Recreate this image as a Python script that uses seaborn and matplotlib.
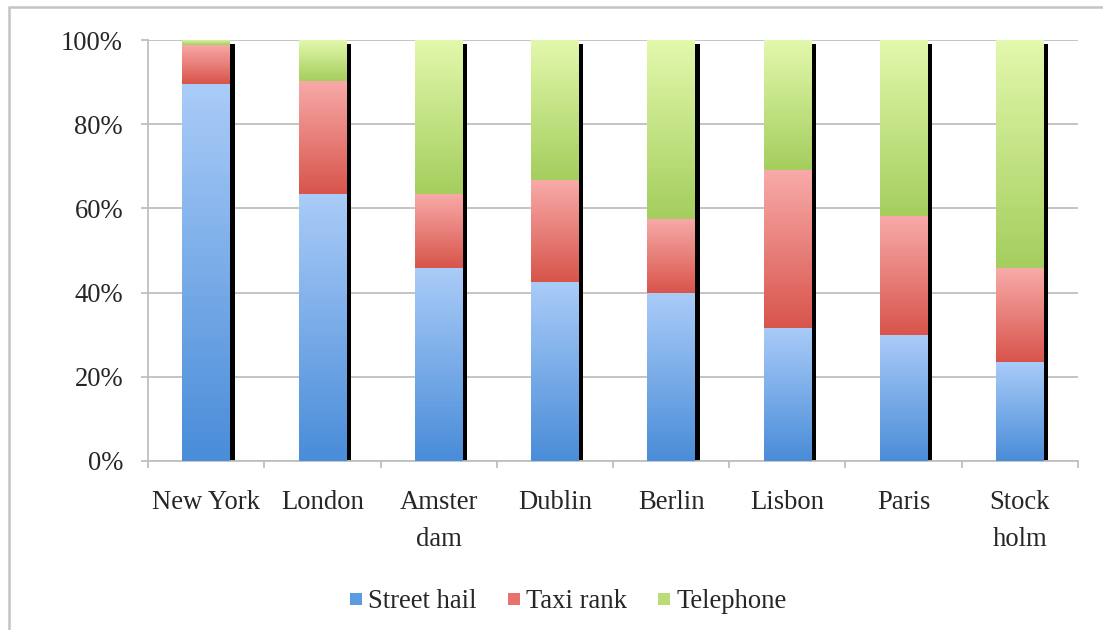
import numpy as np
import pandas as pd
import matplotlib
matplotlib.use("Agg")
import matplotlib.pyplot as plt
import matplotlib.patheffects as pe
from matplotlib.colors import LinearSegmentedColormap
from matplotlib.patches import Rectangle
from matplotlib.lines import Line2D
from matplotlib.ticker import PercentFormatter, FixedLocator
import seaborn as sns

# ── Data (share of taxi bookings, %) ─────────────────
cities      = ["New York", "London", "Amster\ndam", "Dublin", "Berlin",
               "Lisbon", "Paris", "Stock\nholm"]
street_hail = [89.5, 63.4, 45.8, 42.5, 39.9, 31.6, 29.9, 23.5]
taxi_rank   = [9.3, 26.9, 17.6, 24.2, 17.6, 37.5, 28.3, 22.3]
telephone   = [1.2, 9.7, 36.6, 33.3, 42.5, 30.9, 41.8, 54.2]
series      = ["Street hail", "Taxi rank", "Telephone"]

# gradient (top colour, bottom colour), legend colour
grad = {
    "Street hail": ("#a9cbf8", "#4a8dd8", "#5b9be0"),
    "Taxi rank":   ("#f8aaa8", "#d8554c", "#e8736c"),
    "Telephone":   ("#e2f8ac", "#a5ce5e", "#b9dc78"),
}

df = pd.DataFrame({"city": cities, "Street hail": street_hail,
                   "Taxi rank": taxi_rank, "Telephone": telephone})
df["c1"] = df["Street hail"]
df["c2"] = df["c1"] + df["Taxi rank"]
df["c3"] = df["c2"] + df["Telephone"]

sns.set_style("white")
FONT = ["Liberation Serif", "DejaVu Serif"]
FS = 19.2
plt.rcParams["font.family"] = FONT
plt.rcParams["font.size"] = FS

fig = plt.figure(figsize=(11.03, 6.30), dpi=100)
ax = fig.add_axes([0.1342, 0.2683, 0.8431, 0.6682])

# overlay cumulative bars, tallest first; each segment gets its own gradient
layers = [("Telephone", "c2", "c3", 2), ("Taxi rank", "c1", "c2", 4),
          ("Street hail", None, "c1", 6)]
for name, lo, hi, z in layers:
    n_before = len(ax.patches)
    sns.barplot(data=df, x="city", y=hi, color=grad[name][2], width=0.41,
                saturation=1, ax=ax, zorder=z, linewidth=0, errorbar=None)
    cmap = LinearSegmentedColormap.from_list(name, [grad[name][1], grad[name][0]])
    for i, p in enumerate(ax.patches[n_before:]):
        if name == "Telephone":
            p.set_path_effects([pe.SimplePatchShadow(offset=(3.3, -3),
                                shadow_rgbFace="black", alpha=1), pe.Normal()])
        y0 = 0 if lo is None else df[lo].iloc[i]
        y1 = df[hi].iloc[i]
        x0 = p.get_x()
        im = ax.imshow(np.linspace(0, 1, 64).reshape(-1, 1), cmap=cmap,
                       origin="lower", aspect="auto",
                       extent=(x0, x0 + p.get_width(), y0, y1), zorder=z + 0.5)
        im.set_clip_path(p)

ax.set_xlim(-0.5, len(cities) - 0.5)
ax.set_ylim(0, 100)
ax.set_xlabel("")
ax.set_ylabel("")
ax.yaxis.set_major_formatter(PercentFormatter(decimals=0))
ax.set_yticks(np.arange(0, 101, 20))
ax.grid(axis="y", color="#bfbfbf", linewidth=1.3, zorder=0)
ax.set_axisbelow(True)
for s in ["top", "right"]:
    ax.spines[s].set_visible(False)
for s in ["left", "bottom"]:
    ax.spines[s].set_color("#bfbfbf")
    ax.spines[s].set_linewidth(1.3)

ax.xaxis.set_minor_locator(FixedLocator(np.arange(-0.5, len(cities), 1)))
ax.tick_params(axis="x", which="major", length=0, pad=21, labelsize=FS)
ax.tick_params(axis="x", which="minor", length=5, width=1.3, color="#bfbfbf",
               direction="out", bottom=True)
ax.tick_params(axis="y", length=5, width=1.3, color="#bfbfbf", pad=13,
               left=True, labelsize=FS)
for t in ax.get_xticklabels():
    t.set_linespacing(1.6)

handles = [Line2D([], [], marker="s", linestyle="", markersize=9,
                  markerfacecolor=grad[s][2], markeredgewidth=0) for s in series]
fig.legend(handles, series, loc="center", bbox_to_anchor=(0.513, 0.045),
           ncol=3, frameon=False, prop={"family": FONT, "size": FS},
           handletextpad=0.05, columnspacing=1.0, handlelength=0.8)

fig.add_artist(Rectangle((9 / 1103, -0.05), 1.2, 1 - 7 / 630 + 0.05,
                         transform=fig.transFigure, fill=False,
                         edgecolor="#c4c4c4", linewidth=1.8))

fig.savefig("out.png", dpi=100)
